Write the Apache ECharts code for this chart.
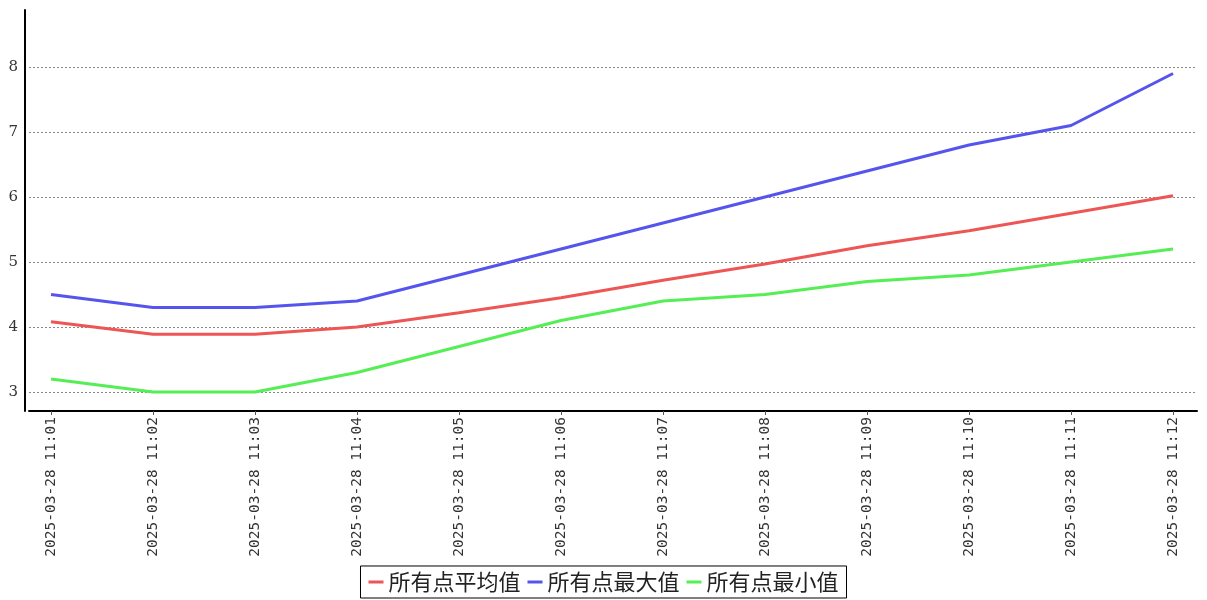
<!DOCTYPE html>
<html><head><meta charset="utf-8">
<script src="https://cdn.jsdelivr.net/npm/echarts@6/dist/echarts.min.js"></script>
<style>html,body{margin:0;padding:0;background:#fff}#c{width:1207px;height:600px}</style>
</head><body><div id="c"></div>
<script>
const categories = ['2025-03-28 11:01','2025-03-28 11:02','2025-03-28 11:03','2025-03-28 11:04','2025-03-28 11:05','2025-03-28 11:06','2025-03-28 11:07','2025-03-28 11:08','2025-03-28 11:09','2025-03-28 11:10','2025-03-28 11:11','2025-03-28 11:12'];
const avgValues = [4.08, 3.89, 3.89, 4.0, 4.22, 4.45, 4.72, 4.97, 5.25, 5.48, 5.75, 6.02];
const maxValues = [4.5, 4.3, 4.3, 4.4, 4.8, 5.2, 5.6, 6.0, 6.4, 6.8, 7.1, 7.9];
const minValues = [3.2, 3.0, 3.0, 3.3, 3.7, 4.1, 4.4, 4.5, 4.7, 4.8, 5.0, 5.2];
const yTicks = [3, 4, 5, 6, 7, 8];
const seriesNames = ['所有点平均值', '所有点最大值', '所有点最小值'];
const colors = ['#ee5555', '#5555ee', '#55ee55'];

const xIdx = categories.map((_, i) => i);
const toPts = arr => arr.map((v, i) => [i, v]);

const chart = echarts.init(document.getElementById('c'), null, {renderer: 'canvas'});
chart.setOption({
  animation: false,
  color: colors,
  grid: {left: 29, right: 10, top: 10, bottom: 189},
  xAxis: {
    type: 'value',
    min: -0.2157, max: 11.235,
    axisLine: {show: true, onZero: false, lineStyle: {color: '#000', width: 2}},
    axisTick: {show: true, length: 4, customValues: xIdx, lineStyle: {color: '#555', width: 1}},
    axisLabel: {
      customValues: xIdx, rotate: 90, margin: 6,
      fontFamily: 'DejaVu Sans Mono', fontSize: 14.5, color: '#333',
      formatter: v => categories[Math.round(v)]
    },
    splitLine: {show: false}
  },
  yAxis: {
    type: 'value',
    min: 2.708, max: 8.877,
    offset: 4,
    axisLine: {show: true, onZero: false, lineStyle: {color: '#000', width: 2}},
    axisTick: {show: false, customValues: yTicks},
    axisLabel: {customValues: yTicks, margin: 7, fontFamily: 'DejaVu Serif', fontSize: 15, color: '#333'},
    splitLine: {show: true, customValues: yTicks, lineStyle: {color: '#888', type: [2, 2], width: 1}}
  },
  legend: {
    data: seriesNames,
    left: 'center', bottom: 2,
    icon: 'rect', itemWidth: 15, itemHeight: 3, itemGap: 7,
    borderColor: '#000', borderWidth: 1, padding: [5, 8],
    textStyle: {fontFamily: 'Noto Sans CJK SC', fontSize: 22, color: '#222'}
  },
  series: [
    {name: seriesNames[0], type: 'line', data: toPts(avgValues), showSymbol: false, lineStyle: {width: 3}},
    {name: seriesNames[1], type: 'line', data: toPts(maxValues), showSymbol: false, lineStyle: {width: 3}},
    {name: seriesNames[2], type: 'line', data: toPts(minValues), showSymbol: false, lineStyle: {width: 3}}
  ]
});
</script></body></html>
